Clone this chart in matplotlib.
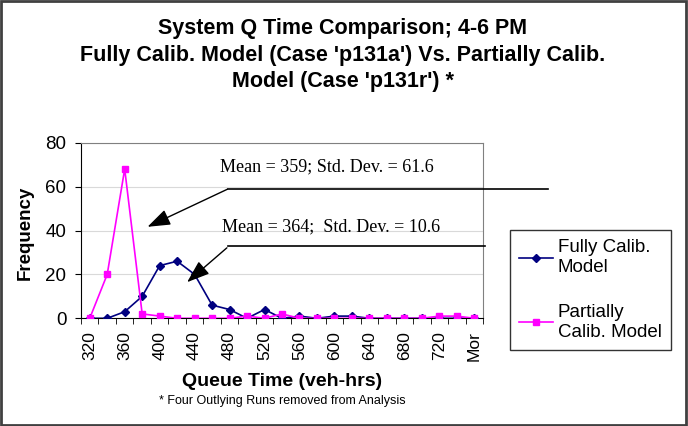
import matplotlib
matplotlib.use("Agg")
import matplotlib.pyplot as plt
from matplotlib.patches import Rectangle

categories = ["320", "340", "360", "380", "400", "420", "440", "460", "480", "500",
              "520", "540", "560", "580", "600", "620", "640", "660", "680", "700",
              "720", "740", "Mor"]
fully = [0, 0, 3, 10, 24, 26, 20, 6, 4, 0, 4, 0, 1, 0, 1, 1, 0, 0, 0, 0, 0, 0, 0]
partial = [0, 20, 68, 2, 1, 0, 0, 0, 0, 1, 0, 2, 0, 0, 0, 0, 0, 0, 0, 0, 1, 1, 0]
yticks = [0, 20, 40, 60, 80]

title = "System Q Time Comparison; 4-6 PM\nFully Calib. Model (Case 'p131a') Vs. Partially Calib.\nModel (Case 'p131r') *"
ann1 = "Mean = 359; Std. Dev. = 61.6"
ann2 = "Mean = 364;  Std. Dev. = 10.6"

plt.rcParams['font.family'] = ['Liberation Sans', 'DejaVu Sans']

W, H = 688, 426
fig = plt.figure(figsize=(W / 100, H / 100), dpi=100)
ax = fig.add_axes([81 / W, 1 - 318.3 / H, (483 - 81) / W, (318.3 - 142.7) / H])

x = list(range(len(categories)))
ax.plot(x, fully, color="#000080", marker="D", markersize=4, linewidth=1.2,
        label="Fully Calib.\nModel", zorder=3)
ax.plot(x, partial, color="#FF00FF", marker="s", markersize=5, linewidth=1.2,
        label="Partially\nCalib. Model", zorder=4)

ax.set_xlim(-0.5, len(categories) - 0.5)
ax.set_ylim(0, 80)
ax.set_yticks(yticks)
ax.tick_params(axis="y", labelsize=13.5, length=4.5, direction="out", pad=6)
ax.yaxis.grid(True, color="#d9d9d9", linewidth=0.8)
ax.set_axisbelow(True)

ax.set_xticks(x[::2])
ax.set_xticklabels(categories[::2], rotation=90, fontsize=12.5)
ax.tick_params(axis="x", which="major", length=0, pad=9)
ax.set_xticks([i - 0.5 for i in range(len(categories) + 1)], minor=True)
ax.tick_params(axis="x", which="minor", length=4, direction="out")

for s in ["left", "bottom"]:
    ax.spines[s].set_color("black")
for s in ["right", "top"]:
    ax.spines[s].set_color("#808080")

fig.text(25 / W, 1 - 233 / H, "Frequency", rotation=90, ha="center", va="center",
         fontsize=13.5, fontweight="bold")

fig.text(0.5 * (81 + 483) / W, 1 - 382 / H, "Queue Time (veh-hrs)", ha="center", va="center",
         fontsize=14, fontweight="bold")
fig.text(0.5 * (81 + 483) / W, 1 - 401 / H, "* Four Outlying Runs removed from Analysis",
         ha="center", va="center", fontsize=9)

fig.text(343 / W, 1 - 55 / H, title, ha="center", va="center", fontsize=15.5,
         fontweight="bold", linespacing=1.33)

# annotations
fig.text(327 / W, 1 - 167 / H, ann1, ha="center", va="center", fontsize=13,
         family="Liberation Serif")
fig.text(331 / W, 1 - 227 / H, ann2, ha="center", va="center", fontsize=13,
         family="Liberation Serif")
fig.add_artist(plt.Line2D([228 / W, 548 / W], [1 - 189 / H, 1 - 189 / H],
                          transform=fig.transFigure, color="black", linewidth=1.2))
fig.add_artist(plt.Line2D([228 / W, 485 / W], [1 - 246 / H, 1 - 246 / H],
                          transform=fig.transFigure, color="black", linewidth=1.2))
ax.annotate("", xy=(145 / W, 1 - 228 / H), xytext=(230 / W, 1 - 188 / H),
            xycoords="figure fraction", textcoords="figure fraction",
            arrowprops=dict(arrowstyle="-|>,head_length=1.4,head_width=0.5",
                            color="black", linewidth=1.0), annotation_clip=False)
ax.annotate("", xy=(185 / W, 1 - 284 / H), xytext=(229 / W, 1 - 246 / H),
            xycoords="figure fraction", textcoords="figure fraction",
            arrowprops=dict(arrowstyle="-|>,head_length=1.4,head_width=0.5",
                            color="black", linewidth=1.0), annotation_clip=False)

leg = fig.legend(loc="upper left", bbox_to_anchor=(510 / W, 1 - 230 / H),
                 borderaxespad=0, fontsize=13.5, frameon=True, fancybox=False,
                 edgecolor="black", handlelength=1.8, labelspacing=1.5,
                 borderpad=0.5, handletextpad=0.25, markerscale=0.9)
leg.get_frame().set_linewidth(1.0)

fig.add_artist(Rectangle((0.002, 0.003), 0.995, 0.994, transform=fig.transFigure,
                         fill=False, edgecolor="#404040", linewidth=2))

fig.savefig("out.png", dpi=100)
